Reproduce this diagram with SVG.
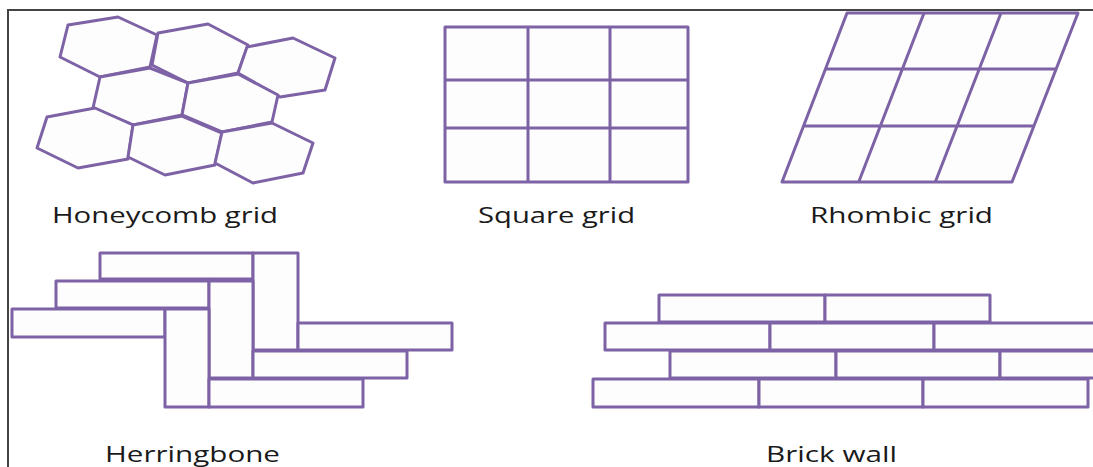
<svg xmlns="http://www.w3.org/2000/svg" width="1093" height="467" viewBox="0 0 1093 467">
<style>
.s{fill:#fdfdfd;stroke:#7e62a6;stroke-width:3;stroke-linejoin:round}
.l{fill:none;stroke:#7e62a6;stroke-width:3}
.t{font-family:"Open Sans","Liberation Sans",sans-serif;font-size:21px;fill:#1a1a1a}
</style>
<rect width="1093" height="467" fill="#ffffff"/>
<path d="M8,467 V10 H1093" fill="none" stroke="#444" stroke-width="2"/>
<g id="honeycomb">
<polygon class="s" points="68,25 118,17 157,35 150,67 100,77 60,57"/>
<polygon class="s" points="158,33 208,24 248,45 238,73 188,83 152,65"/>
<polygon class="s" points="247,47 293,38 335,58 325,90 280,97 238,73"/>
<polygon class="s" points="100,77 150,68 188,83 182,115 133,125 93,108"/>
<polygon class="s" points="188,83 238,74 278,95 272,122 222,132 182,115"/>
<polygon class="s" points="47,117 95,108 133,125 128,159 78,168 37,148"/>
<polygon class="s" points="133,125 182,116 222,133 215,165 165,175 128,157"/>
<polygon class="s" points="222,132 272,123 313,143 303,173 253,183 215,163"/>
</g>
<g id="square">
<rect class="s" x="445" y="27" width="243" height="155"/>
<path class="l" d="M528,27V182M610,27V182M445,80H688M445,128H688"/>
</g>
<g id="rhombic">
<polygon class="s" points="847,13 1078,13 1012,182 782,182"/>
<path class="l" d="M924,13L858.7,182M1001,13L935.3,182M825,69H1056M804,126H1034"/>
</g>
<g id="herringbone">
<rect class="s" x="100" y="253" width="153" height="26"/>
<rect class="s" x="56" y="281" width="153" height="27"/>
<rect class="s" x="12" y="309" width="153" height="28"/>
<rect class="s" x="253" y="253" width="45" height="97"/>
<rect class="s" x="209" y="281" width="44" height="97"/>
<rect class="s" x="165" y="309" width="44" height="98"/>
<rect class="s" x="298" y="323" width="154" height="27"/>
<rect class="s" x="253" y="351" width="154" height="27"/>
<rect class="s" x="209" y="379" width="154" height="28"/>
</g>
<g id="brickwall">
<rect class="s" x="659" y="295" width="166" height="27"/>
<rect class="s" x="825" y="295" width="165" height="27"/>
<rect class="s" x="605" y="323" width="165" height="27"/>
<rect class="s" x="770" y="323" width="164" height="27"/>
<rect class="s" x="934" y="323" width="165" height="27"/>
<rect class="s" x="670" y="351" width="166" height="27"/>
<rect class="s" x="836" y="351" width="164" height="27"/>
<rect class="s" x="1000" y="351" width="165" height="27"/>
<rect class="s" x="593" y="379" width="166" height="28"/>
<rect class="s" x="759" y="379" width="164" height="28"/>
<rect class="s" x="923" y="379" width="165" height="28"/>
</g>
<g id="labels">
<text class="t" x="52" y="223" textLength="226" lengthAdjust="spacingAndGlyphs">Honeycomb grid</text>
<text class="t" x="478" y="223" textLength="157" lengthAdjust="spacingAndGlyphs">Square grid</text>
<text class="t" x="810" y="223" textLength="183" lengthAdjust="spacingAndGlyphs">Rhombic grid</text>
<text class="t" x="105" y="462" textLength="175" lengthAdjust="spacingAndGlyphs">Herringbone</text>
<text class="t" x="766" y="462" textLength="131" lengthAdjust="spacingAndGlyphs">Brick wall</text>
</g>
</svg>
